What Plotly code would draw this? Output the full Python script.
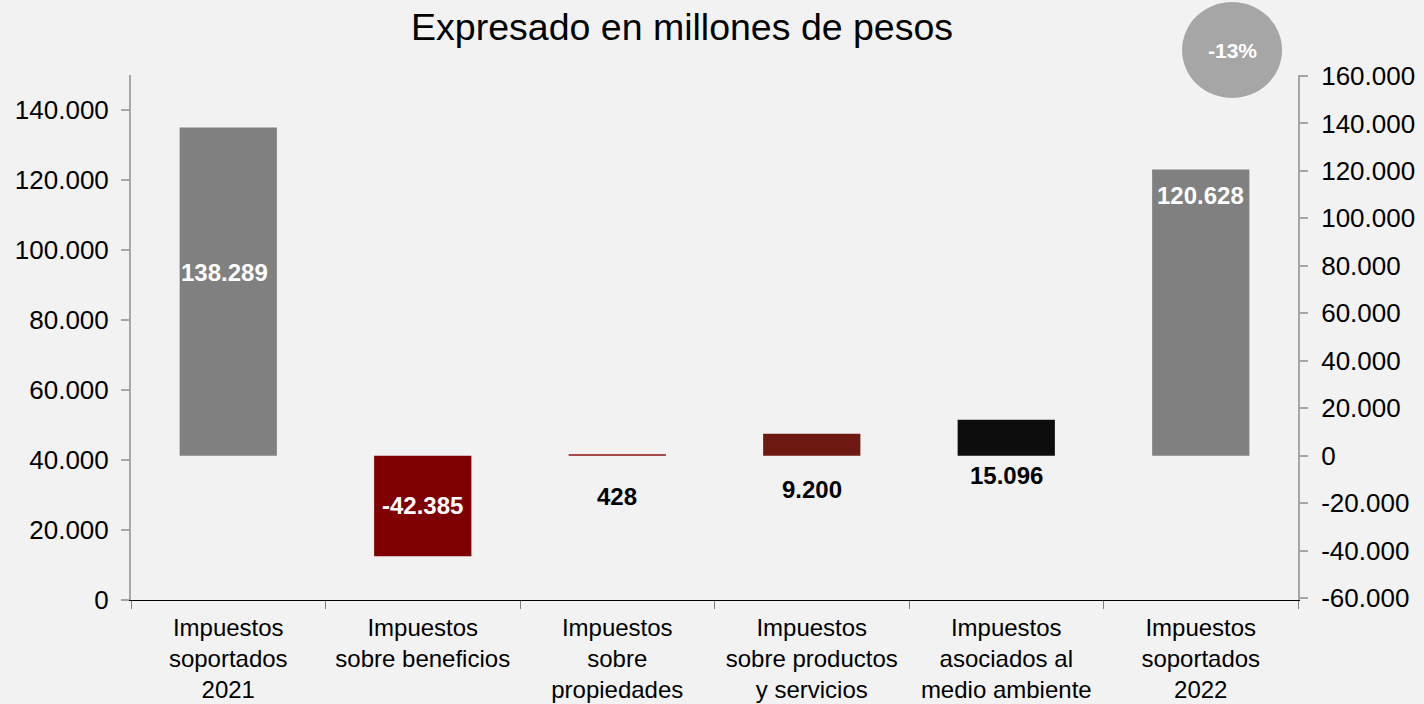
import plotly.graph_objects as go

# ---- data ----
categories = [
    "Impuestos<br>soportados<br>2021",
    "Impuestos<br>sobre beneficios",
    "Impuestos<br>sobre<br>propiedades",
    "Impuestos<br>sobre productos<br>y servicios",
    "Impuestos<br>asociados al<br>medio ambiente",
    "Impuestos<br>soportados<br>2022",
]
values = [138289, -42385, 428, 9200, 15096, 120628]
bar_colors = ["#808080", "#7f0000", "#a84a4a", "#6e1812", "#0d0d0d", "#808080"]
change_label = "-13%"
title_text = "Expresado en millones de pesos"

left_tickvals = [0, 20000, 40000, 60000, 80000, 100000, 120000, 140000]
left_ticktext = ["0", "20.000", "40.000", "60.000", "80.000", "100.000", "120.000", "140.000"]
right_tickvals = [-60000, -40000, -20000, 0, 20000, 40000, 60000, 80000, 100000, 120000, 140000, 160000]
right_ticktext = ["-60.000", "-40.000", "-20.000", "0", "20.000", "40.000", "60.000",
                  "80.000", "100.000", "120.000", "140.000", "160.000"]


def fmt(v):
    s = f"{abs(v):,}".replace(",", ".")
    return ("-" if v < 0 else "") + s


# label placement style: (anchor, pixel shift, colour)
label_style = [
    ("mid", 19, "white"),
    ("mid", 0, "white"),
    ("zero", -41, "black"),
    ("zero", -34, "black"),
    ("zero", -20, "black"),
    ("top", -26, "white"),
]

FONT = "Liberation Sans, Arial, sans-serif"

fig = go.Figure()
# invisible helper trace so the left axis is drawn
fig.add_trace(go.Scatter(
    x=categories, y=[None] * len(categories), yaxis="y", mode="markers",
    hoverinfo="skip", showlegend=False,
))
fig.add_trace(go.Bar(
    x=categories, y=values, marker=dict(color=bar_colors, line=dict(width=0)),
    yaxis="y2", hoverinfo="skip", showlegend=False,
))

annotations = []
for i, (cat, v, (anchor, shift, col)) in enumerate(zip(categories, values, label_style)):
    if anchor == "mid":
        yy = v / 2
    elif anchor == "top":
        yy = v
    else:
        yy = 0
    annotations.append(dict(
        x=cat, y=yy, xref="x", yref="y2", text="<b>" + fmt(v) + "</b>",
        showarrow=False, yshift=shift, xshift=-4 if i == 0 else 0, yanchor="middle",
        font=dict(family=FONT, size=24, color=col),
    ))

annotations.append(dict(
    x=0.9435, y=1.0476, xref="paper", yref="paper", text="<b>" + change_label + "</b>",
    showarrow=False, font=dict(family=FONT, size=21, color="white"),
    xanchor="center", yanchor="middle",
))

fig.update_layout(
    width=1424, height=704,
    paper_bgcolor="#f2f2f2", plot_bgcolor="#f2f2f2",
    margin=dict(l=131, r=126, t=75, b=104),
    bargap=0.5,
    separators=",.",
    font=dict(family=FONT, size=26, color="black"),
    title=dict(text=title_text, x=0.479, xanchor="center", y=1 - 27 / 704, yanchor="middle",
               yref="container", font=dict(family=FONT, size=37.5, color="black")),
    xaxis=dict(
        showline=True, linecolor="black", linewidth=1,
        ticks="outside", tickson="boundaries", ticklen=8, tickcolor="#808080",
        tickfont=dict(family=FONT, size=24), showgrid=False, automargin=False,
        ticklabelstandoff=6, fixedrange=True,
    ),
    yaxis=dict(
        range=[0, 150000], tickvals=left_tickvals, ticktext=left_ticktext,
        showline=True, linecolor="#a6a6a6", linewidth=2,
        ticks="outside", ticklen=8, tickcolor="#a6a6a6", tickwidth=2,
        ticklabelstandoff=7,
        showgrid=False, zeroline=False, automargin=False, tickfont=dict(size=26),
    ),
    yaxis2=dict(
        range=[-60800, 160400], tickvals=right_tickvals, ticktext=right_ticktext,
        overlaying="y", side="right",
        showline=True, linecolor="#a6a6a6", linewidth=2,
        ticks="outside", ticklen=8, tickcolor="#a6a6a6", tickwidth=2,
        ticklabelstandoff=8,
        showgrid=False, zeroline=False, automargin=False, tickfont=dict(size=26),
    ),
    annotations=annotations,
    shapes=[dict(
        type="circle", xref="paper", yref="paper", xsizemode="pixel", ysizemode="pixel",
        xanchor=0.9435, yanchor=1.0476, x0=-50, x1=50, y0=-48, y1=48,
        fillcolor="#a6a6a6", line=dict(width=0), layer="below",
    )],
)

fig.write_html(
    "out.html",
    config={"displayModeBar": False},
    post_script="document.body.style.margin='0';document.body.style.background='#f2f2f2';"
                "document.body.style.overflow='hidden';",
)
